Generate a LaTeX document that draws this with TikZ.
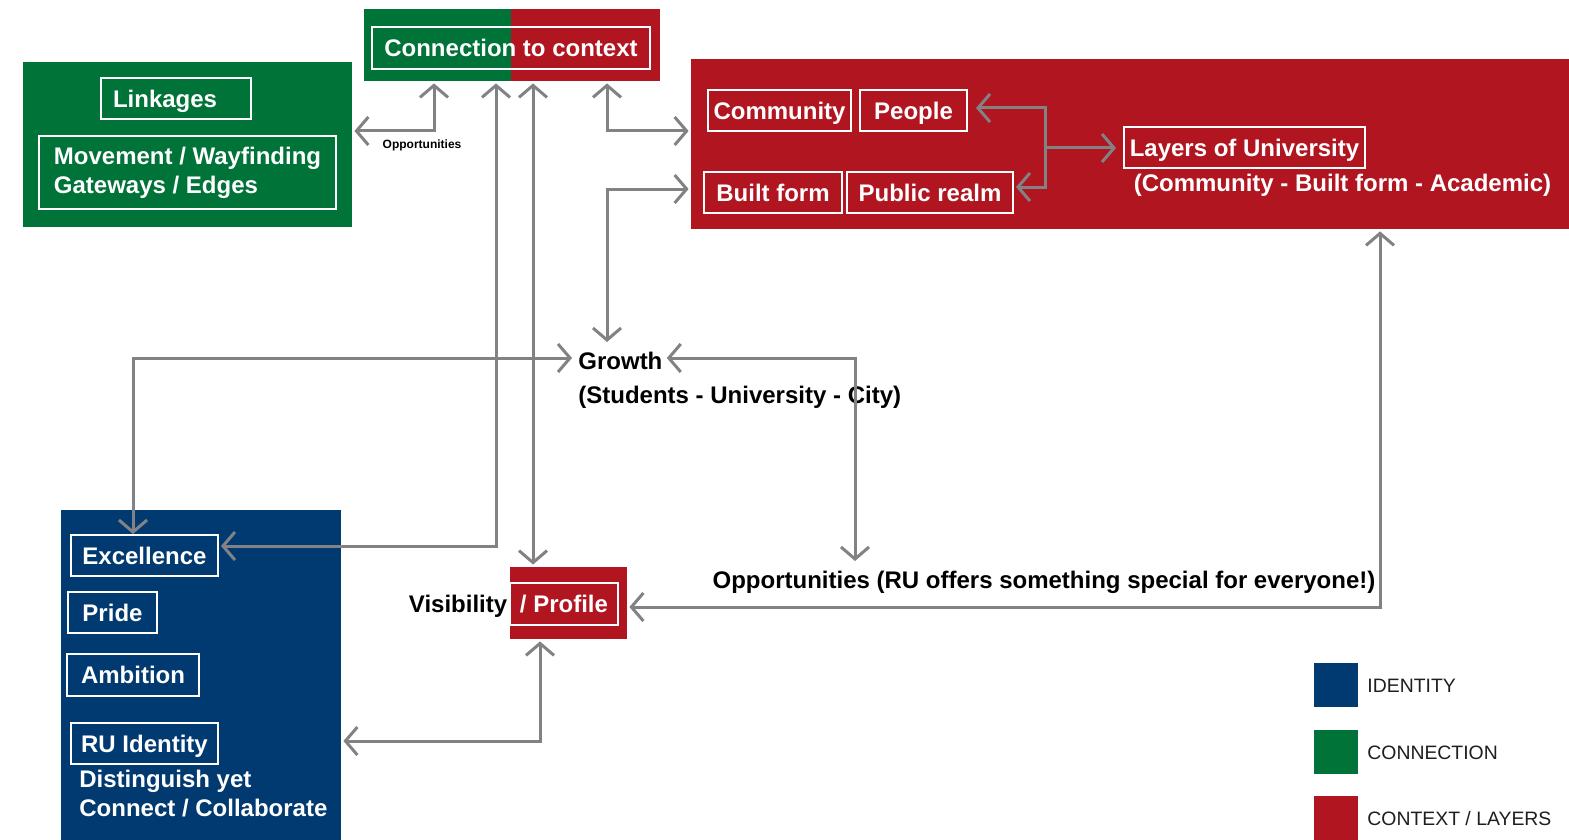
\documentclass[tikz,border=0pt]{standalone}
\usepackage{fontspec}
\setmainfont{Liberation Sans}
\usetikzlibrary{arrows.meta, positioning}
\usepackage{xcolor}
\definecolor{ruGreen}{RGB}{0,115,56}
\definecolor{ruRed}{RGB}{176,21,32}
\definecolor{ruBlue}{RGB}{0,58,112}
\definecolor{ruGray}{RGB}{130,130,132}
\definecolor{ruInk}{RGB}{30,30,30}
\tikzset{
    ruPanel/.style={
        draw=none, inner sep=0pt
    },
    ruTagBlock/.style={
        draw=white, line width=1pt, text=white, font=\fontsize{12}{14.5}\selectfont\bfseries, inner sep=0pt, minimum height=20.5pt, align=left
    },
    ruTag/.style={
        ruTagBlock, text height=8.6pt, text depth=0pt
    },
    ruTextBlock/.style={
        text=black, font=\fontsize{12}{14.5}\selectfont\bfseries, inner sep=1pt
    },
    ruText/.style={
        ruTextBlock, text height=8.6pt, text depth=0pt
    },
    ruKey/.style={
        draw=none, inner sep=0pt, minimum size=22pt
    },
    ruKeyText/.style={
        text=ruInk, font=\fontsize{9.7}{11}\selectfont, inner sep=0pt, anchor=west, text height=7pt, text depth=0pt
    },
    ruArrow/.style={
        {Straight Barb[length=6pt, width=14pt]}-{Straight Barb[length=6pt, width=14pt]}, line width=1.5pt, draw=ruGray, shorten <=1pt, shorten >=1pt
    },
    ruOneArrow/.style={
        -{Straight Barb[length=6pt, width=14pt]}, line width=1.5pt, draw=ruGray
    }
}

\begin{document}
\begin{tikzpicture}[x=0.5pt, y=-0.5pt]
    \useasboundingbox (0,0) rectangle (1569,840);

    % ── COLOURED PANELS
    \node[ruPanel, fill=ruGreen, minimum width=164.5pt, minimum height=82.5pt] (greenPanel) at (187.5,144.5) {};
    \node[ruPanel, fill=ruRed, minimum width=77.5pt, minimum height=36pt] (connRed) at (582.5,45) {};
    \node[ruPanel, fill=ruGreen, minimum width=73.5pt, minimum height=36pt] (connGreen) at (437.5,45) {};
    \node[ruPanel, fill=ruRed, minimum width=439pt, minimum height=85pt] (redPanel) at (1130,144) {};
    \node[ruPanel, fill=ruBlue, minimum width=140pt, minimum height=165pt] (bluePanel) at (201,675) {};
    \node[ruPanel, fill=ruRed, minimum width=58.5pt, minimum height=36pt] (profilePanel) at (568.5,603) {};

    % ── CONNECTION
    \node[ruTag, minimum width=139pt, minimum height=21pt] (connTag) at (511,48) {Connection to context};
    \node[ruTag, inner xsep=6pt, text width=63pt] (linkages) at (176,98.5) {Linkages};
    \node[ruTagBlock, minimum width=148.5pt, minimum height=36.5pt] (movement) at (187.5,172.5) {Movement / Wayfinding\\Gateways / Edges};

    % ── CONTEXT / LAYERS
    \node[ruTag, minimum width=71.5pt] (community) at (779.5,110.5) {Community};
    \node[ruTag, minimum width=53.5pt] (people) at (913.5,110.5) {People};
    \node[ruTag, minimum width=69pt] (builtForm) at (773,192.5) {Built form};
    \node[ruTag, minimum width=83pt] (publicRealm) at (930,192.5) {Public realm};
    \node[ruTag, minimum width=120.5pt] (layers) at (1244.5,147.5) {Layers of University};
    \node[ruText, text=white] (layersSub) at (1342.5,183) {(Community - Built form - Academic)};

    % ── IDENTITY
    \node[ruTag, minimum width=73.5pt] (excellence) at (144.5,555.5) {Excellence};
    \node[ruTag, minimum width=44.5pt] (pride) at (112.5,612.5) {Pride};
    \node[ruTag, minimum width=66pt, minimum height=21pt] (ambition) at (133,675) {Ambition};
    \node[ruTag, minimum width=73.5pt] (ruIdentity) at (144.5,743.5) {RU Identity};
    \node[ruTextBlock, text=white, anchor=west, align=left] (ruIdentityNote) at (77,794) {Distinguish yet\\Connect / Collaborate};

    % ── FREE TEXT
    \node[ruTag, minimum width=54pt, minimum height=21pt] (profileTag) at (564,604) {/ Profile};
    \node[ruText, anchor=east] (visLabel) at (profilePanel.west |- profileTag) {Visibility};
    \node[ruText, anchor=west] (growth) at (576,361) {Growth};
    \node[ruText, anchor=west] (growthSub) at (576,395) {(Students - University - City)};
    \node[ruText] (opps) at (1044,580) {Opportunities (RU offers something special for everyone!)};
    \node[font=\fontsize{6}{7}\selectfont\bfseries, inner sep=0pt] (oppLabel) at (422,145) {Opportunities};

    % ── LEGEND
    \node[ruKey, fill=ruBlue] (keyIdentity) at (1336,685) {};
    \node[ruKey, fill=ruGreen] (keyConnection) at (1336,752) {};
    \node[ruKey, fill=ruRed] (keyContext) at (1336,818) {};
    \node[ruKeyText] at (1367,685) {IDENTITY};
    \node[ruKeyText] at (1367,752) {CONNECTION};
    \node[ruKeyText] at (1367,818) {CONTEXT / LAYERS};

    % ── CONNECTORS
    \coordinate (oppBend) at (434,131);
    \coordinate (excBend) at (496,546);
    \coordinate (profileRail) at (533,0);
    \coordinate (ctxBend) at (607,131);
    \coordinate (builtBend) at (607,189);
    \coordinate (growthBend) at (133,358);
    \coordinate (oppsBend) at (855,358);
    \coordinate (visBend) at (1380,607);
    \coordinate (blueBend) at (540,741);
    \coordinate (peopleBend) at (1045,108);
    \coordinate (layersJoin) at (1045,148);
    \coordinate (publicBend) at (1045,187);

    \draw[ruArrow] (greenPanel.east |- oppBend) -- (oppBend) -- (oppBend |- connGreen.south);
    \draw[ruArrow] (connGreen.south -| excBend) -- (excBend) -- (excellence.east |- excBend);
    \draw[ruArrow] (connRed.south -| profileRail) -- (profilePanel.north -| profileRail);
    \draw[ruArrow] (connRed.south -| ctxBend) -- (ctxBend) -- (redPanel.west |- ctxBend);
    \draw[ruArrow, shorten >=4pt] (redPanel.west |- builtBend) -- (builtBend) -- (growth.north -| builtBend);
    \draw[ruArrow, shorten <=0pt, shorten >=2pt] (excellence.north -| growthBend) -- (growthBend) -- (growth.west |- growthBend);
    \draw[ruArrow, shorten >=4pt] (growth.east |- oppsBend) -- (oppsBend) -- (opps.north -| oppsBend);
    \draw[ruArrow] (profilePanel.east |- visBend) -- (visBend) -- (redPanel.south -| visBend);
    \draw[ruArrow] (profilePanel.south -| blueBend) -- (blueBend) -- (bluePanel.east |- blueBend);
    \draw[ruArrow, shorten <=4pt] (people.east |- peopleBend) -- (peopleBend) -- (publicBend) -- (publicRealm.east |- publicBend);
    \draw[ruOneArrow, shorten >=3.5pt] (layersJoin) -- (layers.west |- layersJoin);
\end{tikzpicture}
\end{document}
